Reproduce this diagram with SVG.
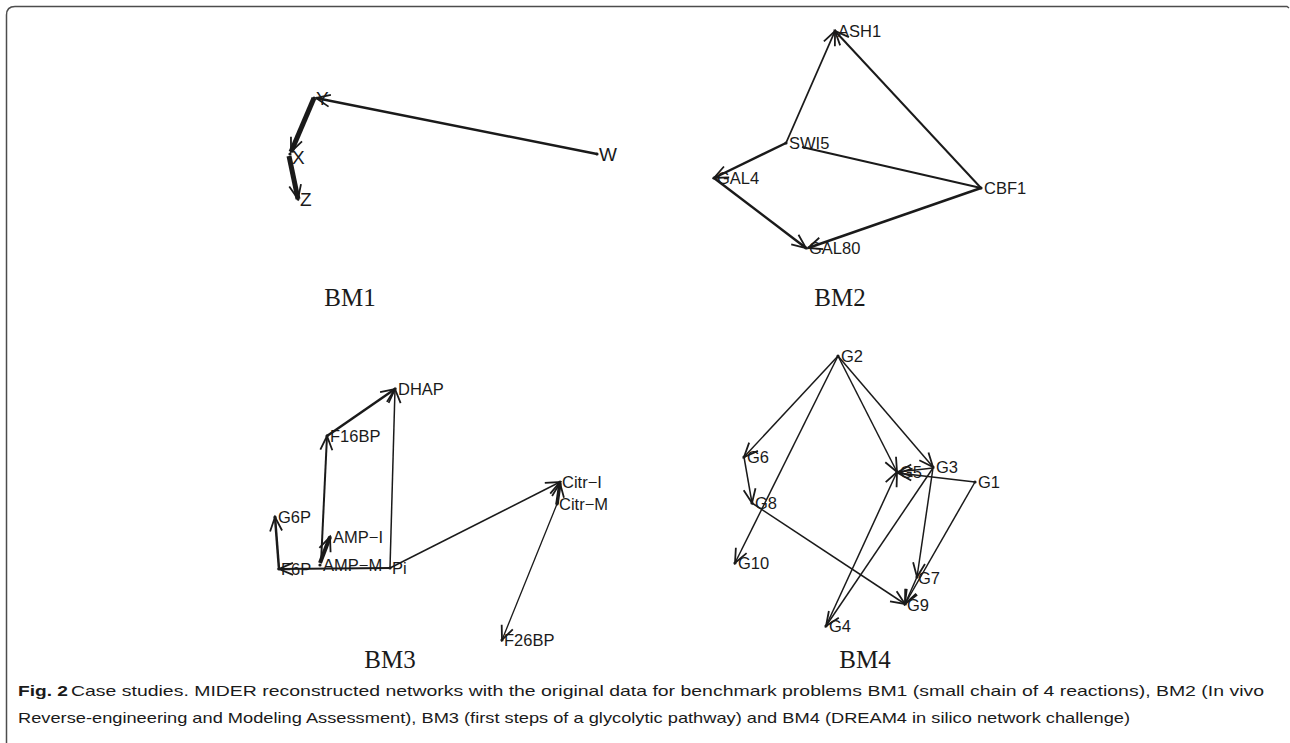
<svg xmlns="http://www.w3.org/2000/svg" width="1290" height="743" viewBox="0 0 1290 743">
<style>
.lbl{font-family:"Liberation Sans",Arial,sans-serif;font-size:16.5px;fill:#1a1a1a}
.big{font-size:19px}
.bm{font-family:"Liberation Serif","Times New Roman",serif;font-size:25px;fill:#1a1a1a;text-anchor:middle}
.cap{font-family:"Liberation Sans",Arial,sans-serif;font-size:15px;fill:#1a1a1a}
.e{stroke:#1a1a1a;fill:none;stroke-linecap:butt;marker-end:url(#a)}
.p{stroke:#1a1a1a;fill:none}
.dot{fill:#1a1a1a}
</style>
<defs>
<marker id="a" viewBox="-18 -9 20 18" markerWidth="20" markerHeight="18" refX="0" refY="0" orient="auto" markerUnits="userSpaceOnUse" overflow="visible">
<path d="M-14,-6 L0,0 L-14,6" fill="none" stroke="#1a1a1a" stroke-width="1.8"/>
</marker>
</defs>
<rect width="1290" height="743" fill="#fff"/>
<path d="M6.5,743 V15 Q6.5,6.5 15,6.5 H1287 L1289,8" fill="none" stroke="#4d4d4d" stroke-width="1.5"/>

<g id="connectors">
<!-- BM1 -->
<line class="e" x1="597" y1="154" x2="316" y2="98" stroke-width="2.5"/>
<line class="e" x1="314" y1="98" x2="291" y2="152" stroke-width="5"/>
<line class="e" x1="289" y1="156" x2="298" y2="199" stroke-width="5"/>
<!-- BM2 -->
<line class="e" x1="786" y1="143" x2="835" y2="31" stroke-width="1.8"/>
<line class="e" x1="981" y1="188" x2="835" y2="31" stroke-width="2"/>
<line class="e" x1="786" y1="143" x2="714" y2="178" stroke-width="2.5"/>
<line class="p" x1="802" y1="147" x2="981" y2="188" stroke-width="2"/>
<line class="e" x1="714" y1="178" x2="806" y2="248" stroke-width="2.5"/>
<line class="e" x1="981" y1="188" x2="808" y2="248" stroke-width="2.5"/>
<!-- BM3 -->
<line class="e" x1="327" y1="436" x2="395" y2="389" stroke-width="2.5"/>
<line class="e" x1="390" y1="568" x2="395" y2="389" stroke-width="1.5"/>
<line class="e" x1="321" y1="563" x2="327" y2="436" stroke-width="2"/>
<line class="e" x1="279" y1="569" x2="275" y2="517" stroke-width="2.5"/>
<line class="e" x1="320" y1="563" x2="330" y2="537" stroke-width="4"/>
<line class="e" x1="390" y1="568" x2="279" y2="569" stroke-width="2"/>
<line class="e" x1="390" y1="568" x2="560" y2="482" stroke-width="1.5"/>
<line class="e" x1="557" y1="504" x2="560" y2="483" stroke-width="3.5"/>
<line class="e" x1="557" y1="504" x2="502" y2="640" stroke-width="1.3"/>
<!-- BM4 -->
<line class="e" x1="838" y1="356" x2="744" y2="457" stroke-width="1.5"/>
<line class="e" x1="838" y1="356" x2="735" y2="563" stroke-width="1.5"/>
<line class="e" x1="838" y1="356" x2="897" y2="472" stroke-width="1.5"/>
<line class="e" x1="838" y1="356" x2="933" y2="467" stroke-width="1.5"/>
<line class="e" x1="744" y1="457" x2="752" y2="503" stroke-width="1.5"/>
<line class="e" x1="752" y1="503" x2="905" y2="604" stroke-width="1.5"/>
<line class="e" x1="933" y1="468" x2="898" y2="472" stroke-width="1.5"/>
<line class="e" x1="975" y1="482" x2="898" y2="473" stroke-width="1.5"/>
<line class="e" x1="933" y1="468" x2="826" y2="626" stroke-width="1.5"/>
<line class="e" x1="826" y1="626" x2="897" y2="472" stroke-width="1.5"/>
<line class="e" x1="933" y1="468" x2="917" y2="577" stroke-width="1.5"/>
<line class="e" x1="975" y1="482" x2="905" y2="604" stroke-width="1.5"/>
<line class="e" x1="917" y1="577" x2="905" y2="604" stroke-width="1.5"/>
</g>

<!-- BM1 nodes -->
<g id="n-Y"><circle class="dot" cx="314" cy="98" r="1.6"/><text class="lbl big" x="316" y="105">Y</text></g>
<g id="n-X"><circle class="dot" cx="290" cy="154" r="1.6"/><text class="lbl big" x="292" y="164">X</text></g>
<g id="n-Z"><circle class="dot" cx="298" cy="199" r="1.6"/><text class="lbl big" x="300" y="206">Z</text></g>
<g id="n-W"><circle class="dot" cx="597" cy="154" r="1.6"/><text class="lbl big" x="599" y="161">W</text></g>

<!-- BM2 nodes -->
<g id="n-ASH1"><circle class="dot" cx="835" cy="31" r="1.6"/><text class="lbl" x="838" y="37">ASH1</text></g>
<g id="n-SWI5"><circle class="dot" cx="786" cy="143" r="1.6"/><text class="lbl" x="789" y="149">SWI5</text></g>
<g id="n-GAL4"><circle class="dot" cx="714" cy="178" r="1.6"/><text class="lbl" x="717" y="184">GAL4</text></g>
<g id="n-CBF1"><circle class="dot" cx="981" cy="188" r="1.6"/><text class="lbl" x="984" y="194">CBF1</text></g>
<g id="n-GAL80"><circle class="dot" cx="806" cy="248" r="1.6"/><text class="lbl" x="809" y="254">GAL80</text></g>

<!-- BM3 nodes -->
<g id="n-DHAP"><circle class="dot" cx="395" cy="389" r="1.6"/><text class="lbl" x="398" y="395">DHAP</text></g>
<g id="n-F16BP"><circle class="dot" cx="327" cy="436" r="1.6"/><text class="lbl" x="330" y="442">F16BP</text></g>
<g id="n-G6P"><circle class="dot" cx="275" cy="517" r="1.6"/><text class="lbl" x="278" y="523">G6P</text></g>
<g id="n-AMPI"><circle class="dot" cx="330" cy="537" r="1.6"/><text class="lbl" x="333" y="543">AMP−I</text></g>
<g id="n-AMPM"><circle class="dot" cx="320" cy="565" r="1.6"/><text class="lbl" x="323" y="571">AMP−M</text></g>
<g id="n-F6P"><circle class="dot" cx="279" cy="569" r="1.6"/><text class="lbl" x="281" y="575">F6P</text></g>
<g id="n-Pi"><circle class="dot" cx="390" cy="568" r="1.6"/><text class="lbl" x="392" y="574">Pi</text></g>
<g id="n-CitrI"><circle class="dot" cx="560" cy="482" r="1.6"/><text class="lbl" x="562" y="488">Citr−I</text></g>
<g id="n-CitrM"><circle class="dot" cx="557" cy="504" r="1.6"/><text class="lbl" x="559" y="510">Citr−M</text></g>
<g id="n-F26BP"><circle class="dot" cx="502" cy="640" r="1.6"/><text class="lbl" x="504" y="646">F26BP</text></g>

<!-- BM4 nodes -->
<g id="n-G2"><circle class="dot" cx="838" cy="356" r="1.6"/><text class="lbl" x="841" y="362">G2</text></g>
<g id="n-G6"><circle class="dot" cx="744" cy="457" r="1.6"/><text class="lbl" x="747" y="463">G6</text></g>
<g id="n-G8"><circle class="dot" cx="752" cy="503" r="1.6"/><text class="lbl" x="755" y="509">G8</text></g>
<g id="n-G10"><circle class="dot" cx="735" cy="563" r="1.6"/><text class="lbl" x="738" y="569">G10</text></g>
<g id="n-G5"><circle class="dot" cx="897" cy="472" r="1.6"/><text class="lbl" x="900" y="478">G5</text></g>
<g id="n-G3"><circle class="dot" cx="933" cy="467" r="1.6"/><text class="lbl" x="936" y="473">G3</text></g>
<g id="n-G1"><circle class="dot" cx="975" cy="482" r="1.6"/><text class="lbl" x="978" y="488">G1</text></g>
<g id="n-G7"><circle class="dot" cx="917" cy="577" r="1.6"/><text class="lbl" x="918" y="584">G7</text></g>
<g id="n-G9"><circle class="dot" cx="905" cy="604" r="1.6"/><text class="lbl" x="907" y="611">G9</text></g>
<g id="n-G4"><circle class="dot" cx="826" cy="626" r="1.6"/><text class="lbl" x="829" y="632">G4</text></g>

<g id="panel-labels">
<text class="bm" x="350" y="306">BM1</text>
<text class="bm" x="840" y="306">BM2</text>
<text class="bm" x="390" y="668">BM3</text>
<text class="bm" x="865" y="668">BM4</text>
</g>

<g id="caption">
<text class="cap" x="18" y="696" font-weight="bold" textLength="50" lengthAdjust="spacingAndGlyphs">Fig. 2</text>
<text class="cap" x="71" y="696" textLength="1193" lengthAdjust="spacingAndGlyphs">Case studies. MIDER reconstructed networks with the original data for benchmark problems BM1 (small chain of 4 reactions), BM2 (In vivo</text>
<text class="cap" x="18" y="723" textLength="1112" lengthAdjust="spacingAndGlyphs">Reverse-engineering and Modeling Assessment), BM3 (first steps of a glycolytic pathway) and BM4 (DREAM4 in silico network challenge)</text>
</g>
</svg>
